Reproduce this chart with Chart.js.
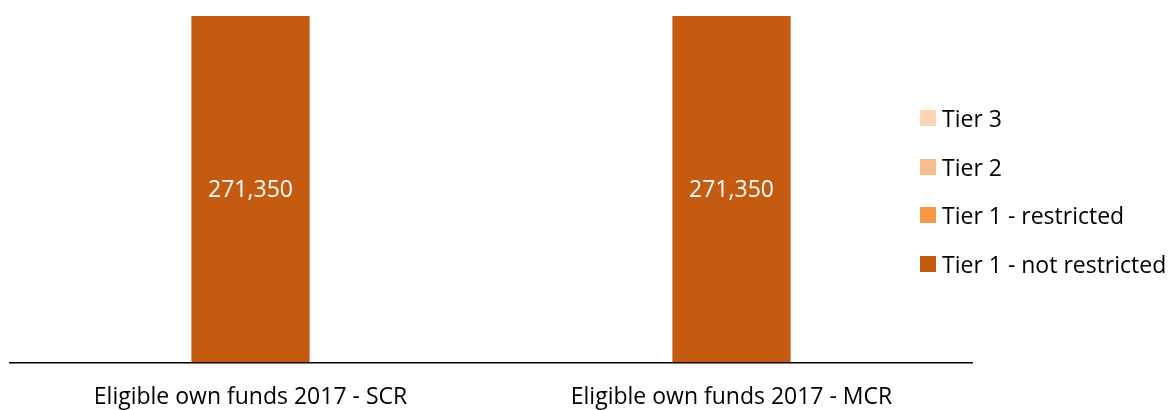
<!DOCTYPE html>
<html>
<head>
<meta charset="utf-8">
<script src="https://cdn.jsdelivr.net/npm/chart.js@4"></script>
<style>
    html, body { margin: 0; padding: 0; background: #fff; }
    #wrap { position: relative; width: 1174px; height: 410px; }
    #legend { position: absolute; left: 920px; top: 94px; font-family: "Open Sans", sans-serif; font-size: 23px; color: #000; white-space: nowrap; }
    .item { display: flex; align-items: center; height: 48.5px; }
    .box { width: 16px; height: 16px; margin-right: 6px; flex: none; }
</style>
</head>
<body>
<div id="wrap">
    <canvas id="chart" width="1174" height="410"></canvas>
    <div id="legend"></div>
</div>
<script>
    // Data
    const categories = ['Eligible own funds 2017 - SCR', 'Eligible own funds 2017 - MCR'];
    const seriesNames = ['Tier 1 - not restricted', 'Tier 1 - restricted', 'Tier 2', 'Tier 3'];
    const notRestricted = [271350, 271350];
    const restricted = [0, 0];
    const tier2 = [0, 0];
    const tier3 = [0, 0];
    const colors = ['#C55A11', '#F79646', '#FABF8F', '#FCD5B4'];

    const seriesValues = [notRestricted, restricted, tier2, tier3];
    const FONT = '"Open Sans", sans-serif';

    // value labels inside the bars
    const valueLabels = {
        id: 'valueLabels',
        afterDatasetsDraw(chart) {
            const ctx = chart.ctx;
            chart.data.datasets.forEach((ds, i) => {
                chart.getDatasetMeta(i).data.forEach((bar, j) => {
                    if (!ds.data[j]) return;
                    const p = bar.getProps(['x', 'y', 'base'], true);
                    ctx.save();
                    ctx.fillStyle = '#fff';
                    ctx.font = '23px ' + FONT;
                    ctx.textAlign = 'center';
                    ctx.textBaseline = 'middle';
                    ctx.fillText(ds.data[j].toLocaleString('en-US'), p.x, (p.y + p.base) / 2 + 2);
                    ctx.restore();
                });
            });
        }
    };

    const chart = new Chart(document.getElementById('chart'), {
        type: 'bar',
        data: {
            labels: categories,
            datasets: seriesNames.map((name, i) => ({
                label: name,
                data: seriesValues[i],
                backgroundColor: colors[i],
                borderColor: 'rgba(255,255,255,0.5)',
                borderWidth: 1,
                barPercentage: 0.25,
                categoryPercentage: 1
            }))
        },
        options: {
            responsive: false,
            animation: false,
            layout: { padding: { left: 10, right: 202, top: 15, bottom: -14 } },
            plugins: { legend: { display: false }, tooltip: { enabled: false } },
            scales: {
                x: {
                    stacked: true,
                    grid: { display: false },
                    border: { color: '#000', width: 1.5 },
                    ticks: { color: '#000', font: { family: FONT, size: 23 }, padding: 13 }
                },
                y: {
                    stacked: true,
                    display: false,
                    min: 0,
                    max: 271350
                }
            }
        },
        plugins: [valueLabels]
    });

    // Legend, reversed order like the original
    const legend = document.getElementById('legend');
    seriesNames.slice().reverse().forEach((name, k) => {
        const i = seriesNames.length - 1 - k;
        const div = document.createElement('div');
        div.className = 'item';
        div.innerHTML = `<span class="box" style="background:${colors[i]}"></span><span>${name}</span>`;
        legend.appendChild(div);
    });
</script>
</body>
</html>
